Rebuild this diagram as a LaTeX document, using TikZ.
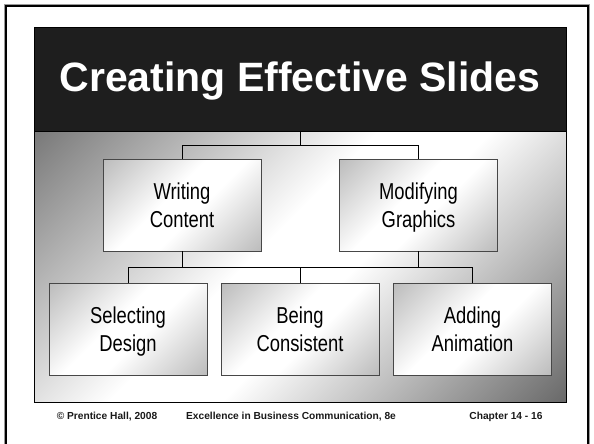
\documentclass[tikz,border=0pt]{standalone}
\usepackage{fontspec}
\setmainfont{Liberation Sans}
\newfontfamily\narrowfont[FakeStretch=0.8]{Liberation Sans}
\definecolor{titlebg}{HTML}{1E1E1E}
\pgfdeclareverticalshading{panelshade}{100bp}{color(0bp)=(black!58); color(15bp)=(black!58); color(45bp)=(white); color(55bp)=(white); color(85bp)=(black!52); color(100bp)=(black!52)}
\pgfdeclareverticalshading{boxshade}{100bp}{color(0bp)=(black!26); color(15bp)=(black!26); color(44bp)=(white); color(56bp)=(white); color(85bp)=(black!26); color(100bp)=(black!26)}
\begin{document}
\begin{tikzpicture}[x=1pt,y=-1pt,
  chartbox/.style={draw=black!72, line width=0.8pt, minimum width=158pt, minimum height=92pt,
    inner sep=0pt, align=center, font=\narrowfont\fontsize{23}{28}\selectfont, text depth=0pt,
    shading=boxshade, shading angle=45},
  panelbox/.style={draw=black, line width=0.8pt, minimum width=532pt, minimum height=271pt, inner sep=0pt,
    shading=panelshade, shading angle=45},
  titlebox/.style={fill=titlebg, draw=black, line width=0.8pt, minimum width=532pt, minimum height=104pt, inner sep=0pt},
  link/.style={draw=black, line width=0.8pt},
  foot/.style={font=\bfseries\fontsize{10.2}{12}\selectfont, inner sep=0pt, text=black!90}]
\useasboundingbox (0,0) rectangle (594,444);
% outer frame
\draw[black!40, line width=0.8pt] (4.2,450) -- (4.2,4.2) -- (589.8,4.2) -- (589.8,450);
\draw[black, line width=2pt] (6,450) -- (6,6) -- (588,6) -- (588,450);
% panels
\node[panelbox] (panel) at (300,266.5) {};
\node[titlebox] (tb) at (300,79) {};
\node[text=white, font=\bfseries\fontsize{41}{49}\selectfont, anchor=base, inner sep=0pt] (title) at (300,92) {Creating Effective Slides};
% chart boxes
\node[chartbox] (wc) at (182,205) {Writing\\Content};
\node[chartbox] (mg) at (418.5,205) {Modifying\\Graphics};
\node[chartbox] (sd) at (128,329) {Selecting\\Design};
\node[chartbox] (bc) at (300,329) {Being\\Consistent};
\node[chartbox] (ad) at (472.5,329) {Adding\\Animation};
% junctions
\coordinate (j1) at (300,145);
\coordinate (j2) at (300,267);
% connectors
\draw[link] (tb.south) -- (j1);
\draw[link] (wc.north) |- (j1);
\draw[link] (mg.north) |- (j1);
\draw[link] (wc.south) |- (j2);
\draw[link] (mg.south) |- (j2);
\draw[link] (sd.north) |- (j2);
\draw[link] (ad.north) |- (j2);
\draw[link] (bc.north) -- (j2);
% footer
\node[foot] (f1) at (107,417) {© Prentice Hall, 2008};
\node[foot] (f2) at (291,417) {Excellence in Business Communication, 8e};
\node[foot] (f3) at (506,417) {Chapter 14 - 16};
\end{tikzpicture}
\end{document}
